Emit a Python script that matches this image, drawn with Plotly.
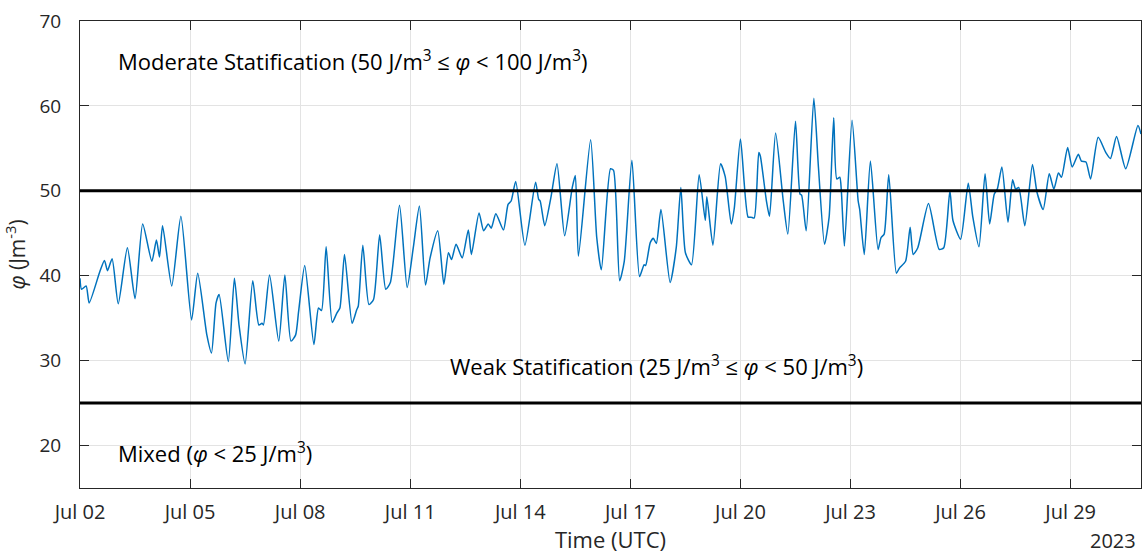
import pandas as pd
import plotly.graph_objects as go

# Hours since 2023-07-02 00:00 UTC and potential energy anomaly phi (J/m^3)
hours = [0, 1, 4, 6, 13, 16, 18, 21, 25, 31, 36, 41, 47, 50, 52, 54, 60, 66,
         73, 77, 83, 86, 89, 91, 97, 101, 104, 108, 113, 117, 119, 120, 124,
         130, 134, 138, 141, 143, 147, 153, 156, 158, 161, 165, 168, 170, 173,
         178, 181, 182, 185, 189, 192, 196, 200, 203, 209, 214, 218, 222, 226,
         229, 234, 238, 241, 243, 246, 250, 254, 256, 261, 264, 267, 269, 272,
         277, 280, 282, 285, 291, 298, 300, 301, 304, 308, 312, 317, 322, 324,
         326, 334, 338, 341, 347, 349, 353, 356, 361, 366, 369, 370, 373, 375,
         377, 380, 386, 390, 393, 396, 400, 405, 409, 410, 414, 419, 422, 426,
         428, 432, 437, 439, 441, 444, 445, 449, 451, 455, 460, 463, 468, 471,
         472, 475, 480, 483, 487, 490, 493, 495, 497, 498, 500, 505, 509, 510,
         513, 517, 522, 524, 526, 529, 534, 536, 540, 543, 545, 548, 555, 562,
         565, 569, 571, 576, 581, 584, 588, 592, 595, 598, 600, 603, 607, 610,
         612, 614, 618, 623, 626, 630, 634, 637, 640, 642, 646, 649, 653, 655,
         658, 661, 666, 671, 674, 678, 684, 692, 694]
phi = [39.7, 38.4, 38.8, 36.8, 40.5, 41.8, 40.6, 42.0, 36.7, 43.3, 37.3, 46.1,
       41.7, 44.2, 42.2, 45.9, 38.8, 47.0, 34.8, 40.3, 33.0, 30.9, 36.8, 37.8,
       29.9, 39.7, 34.2, 29.6, 39.4, 34.2, 34.4, 34.2, 40.1, 32.3, 40.1, 32.3,
       33.0, 35.8, 41.2, 31.9, 36.2, 35.9, 43.4, 34.5, 35.6, 36.2, 42.5, 34.4,
       36.0, 36.4, 43.6, 36.6, 37.2, 44.8, 38.4, 39.2, 48.3, 38.6, 43.3, 48.2,
       38.9, 42.1, 45.3, 39.0, 42.7, 41.9, 43.7, 42.1, 45.4, 42.5, 47.4, 45.3,
       46.1, 45.6, 47.3, 45.4, 48.4, 48.8, 51.1, 43.6, 51.0, 49.0, 48.8, 45.9,
       49.2, 53.2, 44.7, 50.4, 51.8, 42.3, 56.0, 44.5, 40.7, 52.6, 52.4, 39.4,
       41.7, 53.6, 39.9, 41.3, 41.2, 43.9, 44.4, 43.8, 47.8, 39.2, 43.3, 50.4,
       42.7, 41.3, 51.9, 46.5, 49.3, 43.6, 53.2, 51.7, 46.1, 48.0, 56.1, 46.9,
       46.9, 46.8, 54.5, 54.1, 48.8, 47.0, 56.8, 48.8, 44.9, 58.2, 49.6, 49.5,
       45.3, 60.9, 52.8, 43.7, 46.9, 58.6, 51.4, 51.6, 50.0, 43.5, 58.3, 48.8,
       47.8, 42.5, 53.5, 43.1, 44.5, 44.9, 51.9, 40.3, 40.9, 41.7, 45.7, 42.5,
       43.3, 48.5, 43.1, 43.3, 50.0, 46.5, 44.3, 50.9, 46.9, 43.4, 52.0, 46.1,
       49.6, 50.2, 52.8, 46.3, 51.3, 50.2, 50.4, 45.9, 53.1, 49.8, 47.8, 52.0,
       50.2, 52.1, 51.6, 55.1, 52.8, 54.3, 53.5, 53.4, 51.4, 56.3, 54.5, 53.8,
       56.4, 52.6, 57.7, 56.7]

# Stratification class thresholds (J/m^3)
thresholds = [50, 25]
y_ticks = [20, 30, 40, 50, 60, 70]

start = pd.Timestamp("2023-07-02 00:00")
times = start + pd.to_timedelta(hours, unit="h")
x_ticks = pd.date_range("2023-07-02", "2023-07-29", freq="3D")

ink = "#262626"
font_family = "Open Sans"

fig = go.Figure()
fig.add_trace(go.Scatter(
    x=times, y=phi, mode="lines",
    line=dict(color="#0072BD", width=1.5, shape="spline", smoothing=0.6),
    showlegend=False, hoverinfo="x+y",
))

for level in thresholds:
    fig.add_shape(type="line", xref="paper", x0=0, x1=1, yref="y",
                  y0=level, y1=level, line=dict(color="black", width=3))

labels = [
    ("Moderate Statification (50 J/m<sup>3</sup> ≤ <i>φ</i> &lt; 100 J/m<sup>3</sup>)", 0.034, 65.4),
    ("Weak Statification (25 J/m<sup>3</sup> ≤ <i>φ</i> &lt; 50 J/m<sup>3</sup>)", 0.347, 29.4),
    ("Mixed (<i>φ</i> &lt; 25 J/m<sup>3</sup>)", 0.034, 19.2),
]
for text, xp, yv in labels:
    fig.add_annotation(text=text, xref="paper", x=xp, yref="y", y=yv,
                       xanchor="left", yanchor="middle", showarrow=False,
                       font=dict(family=font_family, size=22, color="black"))

fig.add_annotation(text="2023", xref="paper", x=0.996, yref="paper", y=-0.113,
                   xanchor="right", yanchor="middle", showarrow=False,
                   borderpad=0,
                   font=dict(family=font_family, size=20, color=ink))

fig.update_xaxes(
    range=[times[0], times[-1]],
    tickvals=x_ticks, tickformat="%b %d",
    showgrid=True, gridcolor="#e3e3e3", gridwidth=1,
    showline=True, linecolor=ink, linewidth=1, mirror="ticks",
    ticks="inside", ticklen=9, tickcolor=ink,
    ticklabelstandoff=6,
    tickfont=dict(family=font_family, size=20, color=ink),
    title=dict(text="Time (UTC)", standoff=7,
               font=dict(family=font_family, size=22, color=ink)),
    zeroline=False,
)
fig.update_yaxes(
    range=[15, 70], tickvals=y_ticks,
    showgrid=True, gridcolor="#e3e3e3", gridwidth=1,
    showline=True, linecolor=ink, linewidth=1, mirror="ticks",
    ticks="inside", ticklen=9, tickcolor=ink,
    ticklabelstandoff=14,
    tickfont=dict(family=font_family, size=19, color=ink),
    title=dict(text="<i>φ</i> (Jm<sup>-3</sup>)", standoff=14,
               font=dict(family=font_family, size=21, color=ink)),
    zeroline=False,
)

fig.update_layout(
    width=1142, height=554,
    margin=dict(l=80, r=1, t=21, b=66),
    paper_bgcolor="white", plot_bgcolor="white",
    font=dict(family=font_family, color=ink),
)

fig.write_html("out.html")
